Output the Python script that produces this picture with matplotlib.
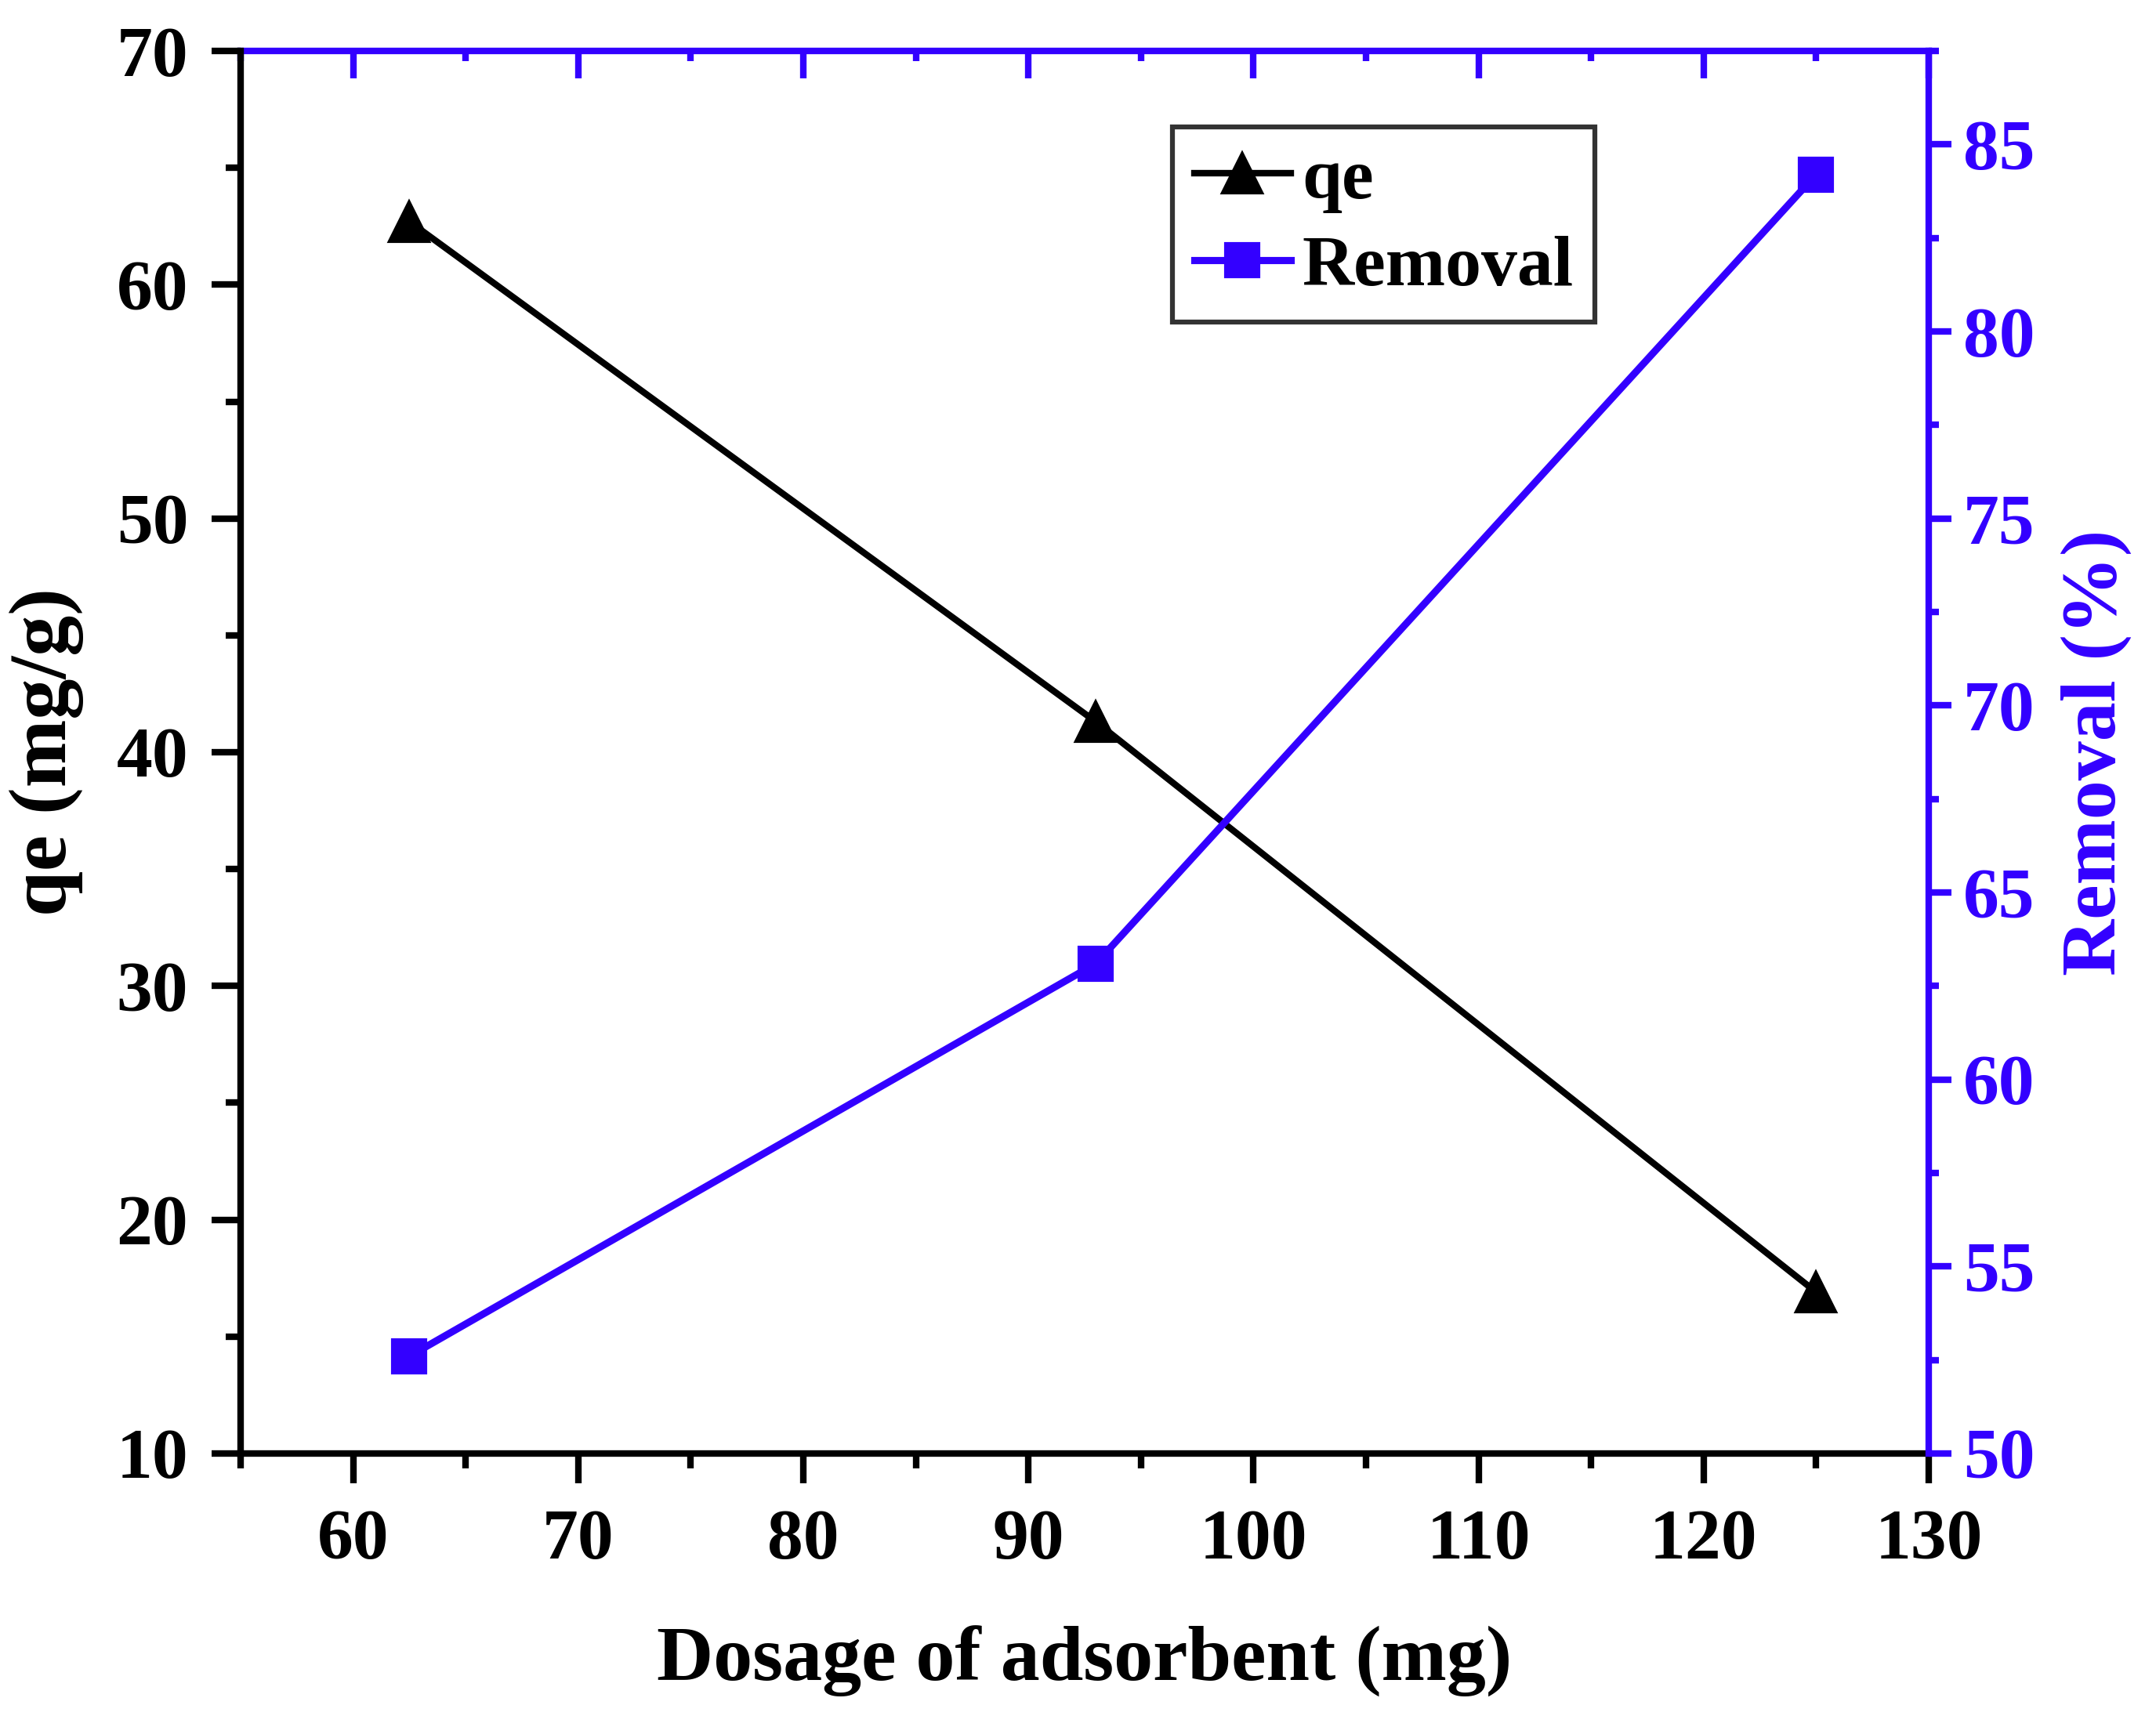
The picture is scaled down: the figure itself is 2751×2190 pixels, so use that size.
import numpy as np
import matplotlib
matplotlib.use('Agg')
from matplotlib import pyplot as plt
from matplotlib.ticker import MultipleLocator

# data
dosage = [62.5, 93, 125]
qe = [62.7, 41.3, 16.9]
removal = [52.6, 63.1, 84.2]

blue = '#3300ff'
plt.rcParams['font.family'] = ['Liberation Serif', 'DejaVu Serif']
plt.rcParams['font.weight'] = 'bold'

fig = plt.figure(figsize=(2751/300, 2190/300), dpi=300)
ax1 = fig.add_axes([0.1116, 0.153, 0.783, 0.8173])
ax2 = ax1.twinx()

l1, = ax1.plot(dosage, qe, '-', color='black', lw=2, marker='^', ms=12, label='qe')
l2, = ax2.plot(dosage, removal, '-', color=blue, lw=2.2, marker='s', ms=10,
               mec=blue, mfc=blue, label='Removal')

ax1.set_xlim(55, 130)
ax1.set_ylim(10, 70)
ax2.set_ylim(50, 87.5)

ax1.xaxis.set_major_locator(MultipleLocator(10))
ax1.xaxis.set_minor_locator(MultipleLocator(5))
ax1.yaxis.set_major_locator(MultipleLocator(10))
ax1.yaxis.set_minor_locator(MultipleLocator(5))
ax2.yaxis.set_major_locator(MultipleLocator(5))
ax2.yaxis.set_minor_locator(MultipleLocator(2.5))

for s in ['left', 'bottom']:
    ax1.spines[s].set_linewidth(2)
ax1.spines['top'].set_visible(False)
ax1.spines['right'].set_visible(False)
ax2.spines['left'].set_visible(False)
ax2.spines['bottom'].set_visible(False)
ax2.spines['right'].set_color(blue)
ax2.spines['right'].set_linewidth(2)
ax2.spines['top'].set_visible(False)

ax1.tick_params(which='major', length=9, width=2, labelsize=22, direction='out')
ax1.tick_params(which='minor', length=4.5, width=2, direction='out')
ax1.tick_params(axis='x', pad=8)
ax1.tick_params(axis='y', pad=7)
ax2.tick_params(which='major', length=7, width=2, labelsize=22, colors=blue, direction='out')
ax2.tick_params(which='minor', length=3, width=2, colors=blue, direction='out')

# blue top axis with inward ticks
top = ax1.secondary_xaxis('top')
top.xaxis.set_major_locator(MultipleLocator(10))
top.xaxis.set_minor_locator(MultipleLocator(5))
top.spines['top'].set_color(blue)
top.spines['top'].set_linewidth(2)
top.tick_params(which='major', direction='in', length=8.5, width=2, colors=blue, labeltop=False)
top.tick_params(which='minor', direction='in', length=3, width=2, colors=blue)

for lab in ax1.get_xticklabels() + ax1.get_yticklabels() + ax2.get_yticklabels():
    lab.set_fontweight('bold')

ax1.set_xlabel('Dosage of adsorbent (mg)', fontsize=24, fontweight='bold', labelpad=16)
ax1.set_ylabel('qe (mg/g)', fontsize=25, fontweight='bold', labelpad=10)
ax2.set_ylabel('Removal (%)', fontsize=24, fontweight='bold', color=blue, labelpad=8)

leg = ax1.legend(handles=[l1, l2], loc='upper left', bbox_to_anchor=(0.552, 0.946),
                 frameon=True, fancybox=False, edgecolor='black',
                 handlelength=1.35, handletextpad=0.15, borderaxespad=0, borderpad=0.3,
                 labelspacing=0.3, prop={'size': 22, 'weight': 'bold'})
leg.get_frame().set_linewidth(1.5)

plt.savefig('out.png', dpi=300)
